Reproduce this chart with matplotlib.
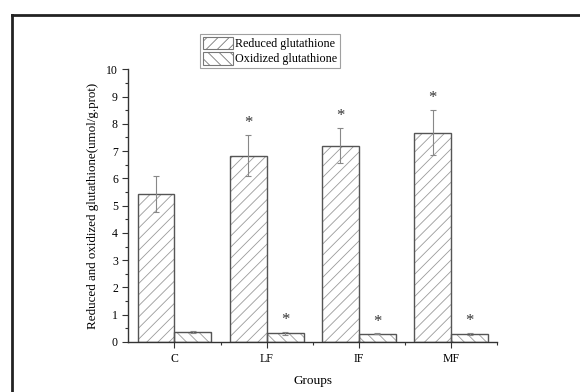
import numpy as np
import matplotlib.pyplot as plt
from matplotlib.lines import Line2D

# Values
groups = ['C', 'LF', 'IF', 'MF']
reduced = [5.43, 6.83, 7.20, 7.68]
reduced_err = [0.67, 0.76, 0.65, 0.84]
oxidized = [0.37, 0.32, 0.30, 0.30]
oxidized_err = [0.03, 0.05, 0.02, 0.03]
reduced_sig = [False, True, True, True]
oxidized_sig = [False, True, True, True]

plt.rcParams['font.family'] = ['Liberation Serif', 'DejaVu Serif']
plt.rcParams['hatch.linewidth'] = 0.6

fig = plt.figure(figsize=(5.8, 3.92), dpi=100)
ax = fig.add_axes([0.2212, 0.1276, 0.636, 0.6957])

x = np.arange(1, len(groups) + 1)
w = 0.4
edge = '#555555'
hatch_col = '#9a9a9a'
err_kw = dict(ecolor='#888888', elinewidth=0.8, capsize=2.5, capthick=0.8)

# hatch layer (light gray) then outline layer (dark gray)
ax.bar(x - w / 2, reduced, w, color='white', edgecolor=hatch_col, hatch='///', linewidth=0)
ax.bar(x + w / 2, oxidized, w, color='white', edgecolor=hatch_col, hatch='\\\\\\', linewidth=0)
ax.bar(x - w / 2, reduced, w, fill=False, edgecolor=edge, linewidth=1.0,
       yerr=reduced_err, error_kw=err_kw)
ax.bar(x + w / 2, oxidized, w, fill=False, edgecolor=edge, linewidth=1.0,
       yerr=oxidized_err, error_kw=err_kw)

# legend handles
h1 = plt.Rectangle((0, 0), 1, 1, facecolor='white', edgecolor='#777777', hatch='///', lw=0.8)
h2 = plt.Rectangle((0, 0), 1, 1, facecolor='white', edgecolor='#777777', hatch='\\\\\\', lw=0.8)

# significance stars
for i in range(len(groups)):
    if reduced_sig[i]:
        ax.text(x[i] - w / 2, reduced[i] + reduced_err[i] + 0.43, '*',
                ha='center', va='center', fontsize=12, color='#333333')
    if oxidized_sig[i]:
        ax.text(x[i] + w / 2, oxidized[i] + oxidized_err[i] + 0.43, '*',
                ha='center', va='center', fontsize=12, color='#333333')

ax.set_xlim(0.5, 4.5)
ax.set_ylim(0, 10)
ax.set_xticks(x)
ax.set_xticklabels(groups)
ax.set_xticks([1.5, 2.5, 3.5, 4.5], minor=True)
ax.set_yticks(range(0, 11))
ax.set_yticks(np.arange(0.5, 10, 1.0), minor=True)
ax.tick_params(axis='both', which='major', length=4, width=0.8, labelsize=8.5, color='#333333')
ax.tick_params(axis='both', which='minor', length=2, width=0.8, color='#333333')
ax.tick_params(axis='x', pad=4)

for s in ['top', 'right']:
    ax.spines[s].set_visible(False)
for s in ['left', 'bottom']:
    ax.spines[s].set_color('#333333')
    ax.spines[s].set_linewidth(1.0)

ax.set_xlabel('Groups', fontsize=9.5, labelpad=7)
ax.set_ylabel('Reduced and oxidized glutathione(umol/g.prot)', fontsize=9.4, labelpad=5)

leg = fig.legend([h1, h2], ['Reduced glutathione', 'Oxidized glutathione'],
                 loc='upper center', bbox_to_anchor=(0.4655, 0.913), fontsize=8.7,
                 fancybox=False, edgecolor='#888888', borderpad=0.2,
                 handlelength=2.5, handleheight=1.25, handletextpad=0.2,
                 labelspacing=0.15, borderaxespad=0)
leg.get_frame().set_linewidth(0.8)

# outer frame (only top and left edges visible in the crop)
fig.add_artist(Line2D([0.0207, 0.0207], [0, 0.963], color='#222222', lw=2))
fig.add_artist(Line2D([0.0207, 1.0], [0.963, 0.963], color='#222222', lw=2))

fig.savefig('out.png', dpi=100)
